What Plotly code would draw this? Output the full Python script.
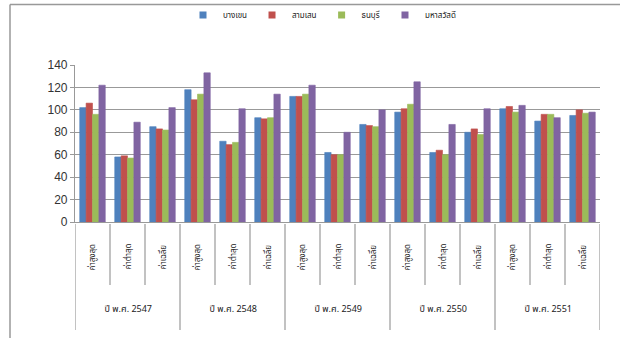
import plotly.graph_objects as go

years = ["ปี พ.ศ. 2547", "ปี พ.ศ. 2548", "ปี พ.ศ. 2549", "ปี พ.ศ. 2550", "ปี พ.ศ. 2551"]
stats = ["ค่าสูงสุด", "ค่าต่ำสุด", "ค่าเฉลี่ย"]
series_names = ["บางเขน", "สามเสน", "ธนบุรี", "มหาสวัสดิ์"]
colors = ["#4F81BD", "#C0504D", "#9BBB59", "#8064A2"]

bangkhen = [102, 58, 85, 118, 72, 93, 112, 62, 87, 98, 62, 80, 101, 90, 95]
samsen = [106, 59, 83, 109, 69, 92, 112, 60, 86, 101, 64, 83, 103, 96, 100]
thonburi = [96, 57, 82, 114, 71, 93, 114, 60, 85, 105, 60, 78, 98, 96, 97]
mahasawat = [122, 89, 102, 133, 101, 114, 122, 80, 100, 125, 87, 101, 104, 93, 98]
values = [bangkhen, samsen, thonburi, mahasawat]

y_ticks = [0, 20, 40, 60, 80, 100, 120, 140]

W, H = 620, 339
ML, MR, MT, MB = 75, 20, 65, 117
PW, PH = W - ML - MR, H - MT - MB


def py(pix):
    return (H - MB - pix) / PH


def px(pix):
    return (pix - ML) / PW


n = len(years) * len(stats)
xs = list(range(n))
font_family = "Tahoma, 'Noto Sans Thai', 'Noto Sans', 'DejaVu Sans', sans-serif"

fig = go.Figure()
for name, col, vals in zip(series_names, colors, values):
    fig.add_trace(go.Bar(x=xs, y=vals, name=name, showlegend=False,
                         marker=dict(color=col, line=dict(color=col, width=0.6))))
# legend entries with small square swatches
for name, col in zip(series_names, colors):
    fig.add_trace(go.Scatter(x=[None], y=[None], mode="markers", name=name,
                             marker=dict(symbol="square", size=7, color=col)))

shapes = []
annotations = []

for i in xs:
    annotations.append(dict(x=i, y=py(257), xref="x", yref="paper", text=stats[i % 3], showarrow=False,
                            textangle=-90, xanchor="center", yanchor="middle",
                            font=dict(size=8, color="#222", family=font_family)))
for gi, yr in enumerate(years):
    annotations.append(dict(x=gi * 3 + 1, y=py(309), xref="x", yref="paper", text=yr, showarrow=False,
                            xanchor="center", yanchor="middle",
                            font=dict(size=9, color="#222", family=font_family)))

for k in range(n + 1):
    outer = (k % 3 == 0)
    shapes.append(dict(type="line", xref="x", yref="paper", x0=k - 0.5, x1=k - 0.5,
                       y0=py(224), y1=py(330 if outer else 285), line=dict(color="#999", width=1.2)))

# outer frame (top and left)
shapes.append(dict(type="line", xref="paper", yref="paper", x0=px(10), x1=px(622), y0=py(4.5), y1=py(4.5),
                   line=dict(color="#999", width=1.5)))
shapes.append(dict(type="line", xref="paper", yref="paper", x0=px(10), x1=px(10), y0=py(4.5), y1=py(338),
                   line=dict(color="#999", width=1.5)))

fig.update_layout(
    width=W, height=H,
    margin=dict(l=ML, r=MR, t=MT, b=MB, autoexpand=False),
    paper_bgcolor="white", plot_bgcolor="white",
    barmode="group", bargap=0.27, bargroupgap=0.0,
    showlegend=True,
    legend=dict(orientation="h", x=px(322), xanchor="center", y=py(15), yanchor="middle",
                bgcolor="rgba(0,0,0,0)", font=dict(size=8, color="#222", family=font_family),
                itemwidth=30, tracegroupgap=0, traceorder="normal"),
    xaxis=dict(range=[-0.5, n - 0.5], showticklabels=False, showgrid=False, zeroline=False,
               showline=True, linecolor="#999", linewidth=1, ticks=""),
    yaxis=dict(range=[0, 140], tickvals=y_ticks, showgrid=True, gridcolor="#999", gridwidth=1.2,
               zeroline=False, showline=True, linecolor="#999", linewidth=1.2,
               ticks="outside", ticklen=4, tickcolor="#999",
               tickfont=dict(size=12, color="#333", family="'Liberation Sans', Arial, sans-serif")),
    shapes=shapes,
    annotations=annotations,
    font=dict(family=font_family),
)

fig.write_html("out.html")
